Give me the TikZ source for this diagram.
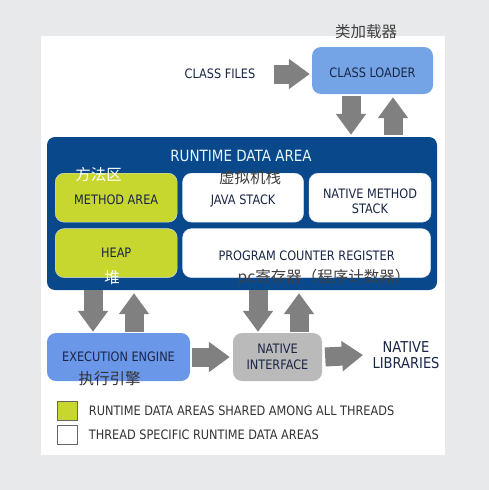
\documentclass[tikz,border=0pt]{standalone}
\usepackage{fontspec}
\setmainfont{DejaVu Sans}[FakeStretch=0.87]
\newfontfamily\cjk{Noto Sans CJK SC}
\usetikzlibrary{arrows.meta,positioning}
\definecolor{jvmbg}{RGB}{232,233,235}
\definecolor{jvmnavy}{RGB}{10,72,140}
\definecolor{jvmblue}{RGB}{116,164,230}
\definecolor{jvmlime}{RGB}{200,214,48}
\definecolor{jvmgrey}{RGB}{186,186,186}
\definecolor{jvmarrow}{RGB}{128,128,128}
\definecolor{jvmtext}{RGB}{26,38,70}

\begin{document}
\begin{tikzpicture}[
    x=1pt, y=-1pt,
    font=\fontsize{13}{15.5}\selectfont, text=jvmtext,
    box/.style={rectangle, rounded corners=9pt, inner sep=0pt, align=center},
    area/.style={box, fill=white, draw=jvmblue!35, minimum height=49pt},
    sunk/.style={text height=14.5pt, text depth=0pt},
    sunktwo/.style={text height=32.5pt, text depth=0pt},
    fat/.style={draw=jvmarrow, line width=19pt, -{Triangle[length=21pt, width=29pt]}},
    zh/.style={font=\cjk\fontsize{15.5}{17}\selectfont},
    key/.style={rectangle, draw=black!60, minimum width=20pt, minimum height=19pt, inner sep=0pt}
]
    % Background
    \fill[jvmbg] (0,0) rectangle (489,490);
    \fill[white] (41,36) rectangle (445,455);

    % Top: class loading
    \node[box, sunk, fill=jvmblue, minimum width=121pt, minimum height=47pt] (loader) at (372.5,70.5) {CLASS LOADER};
    \node (files) at (220,74) {CLASS FILES};
    \node[zh, text=black!75] (loaderzh) at (366,32) {类加载器};

    % Center: runtime data area
    \node[box, rounded corners=8pt, fill=jvmnavy, minimum width=390pt, minimum height=153pt] (runtime) at (242,213.5) {};
    \node[font=\fontsize{15.5}{17}\selectfont, text=cyan!10] (rdatitle) at (241,156) {RUNTIME DATA AREA};
    \node[area, sunk, fill=jvmlime, minimum width=122pt, anchor=north west] (method) at (55,173) {METHOD AREA};
    \node[area, sunk, minimum width=121pt, right=5pt of method] (javastack) {JAVA STACK};
    \node[area, sunktwo, minimum width=122pt, right=5pt of javastack] (nativestack) {NATIVE METHOD\\STACK};
    \node[area, fill=jvmlime, minimum width=122pt, below=6pt of method] (heap) {HEAP};
    \node[area, sunk, minimum width=248pt, below=6pt of javastack.south west, anchor=north west] (pcreg) {PROGRAM COUNTER REGISTER};
    \node[zh, text=white] (methodzh) at (98.5,175) {方法区};
    \node[zh, text=black!75] (javazh) at (250,178) {虚拟机栈};
    \node[zh, text=white] (heapzh) at (112,278) {堆};
    \node[zh, text=black!75] (pczh) at (324,278) {pc寄存器（程序计数器）};

    % Bottom: execution
    \node[box, fill=jvmblue!92!blue, minimum width=143pt, minimum height=48pt] (engine) at (118.5,357) {EXECUTION ENGINE};
    \node[zh, text=black!80] (enginezh) at (109.5,379) {执行引擎};
    \node[box, fill=jvmgrey, minimum width=89pt, minimum height=48pt] (native) at (277.5,357) {NATIVE\\INTERFACE};
    \node[font=\fontsize{15}{16.5}\selectfont, align=center, anchor=west] (libs) at (369,355) {NATIVE\\LIBRARIES};

    % Legend
    \node[key, fill=jvmlime, anchor=north west] (sharedkey) at (57,401) {};
    \node[key, fill=white, below=5pt of sharedkey] (threadkey) {};
    \node[text=black!80, right=8pt of sharedkey] (sharedtxt) {RUNTIME DATA AREAS SHARED AMONG ALL THREADS};
    \node[text=black!80, right=8pt of threadkey] (threadtxt) {THREAD SPECIFIC RUNTIME DATA AREAS};

    % Arrows
    \draw[fat] ([xshift=15pt]files.east) -- ([xshift=-2pt]loader.west |- files.east);
    \draw[fat, shorten >=2pt] ([xshift=-21.5pt, yshift=-2pt]loader.south) -- ([xshift=-21.5pt]loader.south |- runtime.north);
    \draw[fat, shorten <=2pt] ([xshift=20.5pt]loader.south |- runtime.north) -- ([xshift=20.5pt, yshift=-3pt]loader.south);
    \draw[fat] ([xshift=-25.5pt]engine.north |- runtime.south) -- ([xshift=-25.5pt, yshift=1pt]engine.north);
    \draw[fat, shorten >=3pt] ([xshift=15.5pt, yshift=1pt]engine.north) -- ([xshift=15.5pt]engine.north |- runtime.south);
    \draw[fat] ([xshift=-19.5pt]native.north |- runtime.south) -- ([xshift=-19.5pt, yshift=1pt]native.north);
    \draw[fat, shorten >=3pt] ([xshift=21.5pt, yshift=1pt]native.north) -- ([xshift=21.5pt]native.north |- runtime.south);
    \draw[fat] ([xshift=2pt]engine.east) -- ([xshift=-3pt]native.west);
    \draw[fat] ([xshift=3pt]native.east) -- ([xshift=-6pt]libs.west);
\end{tikzpicture}
\end{document}
